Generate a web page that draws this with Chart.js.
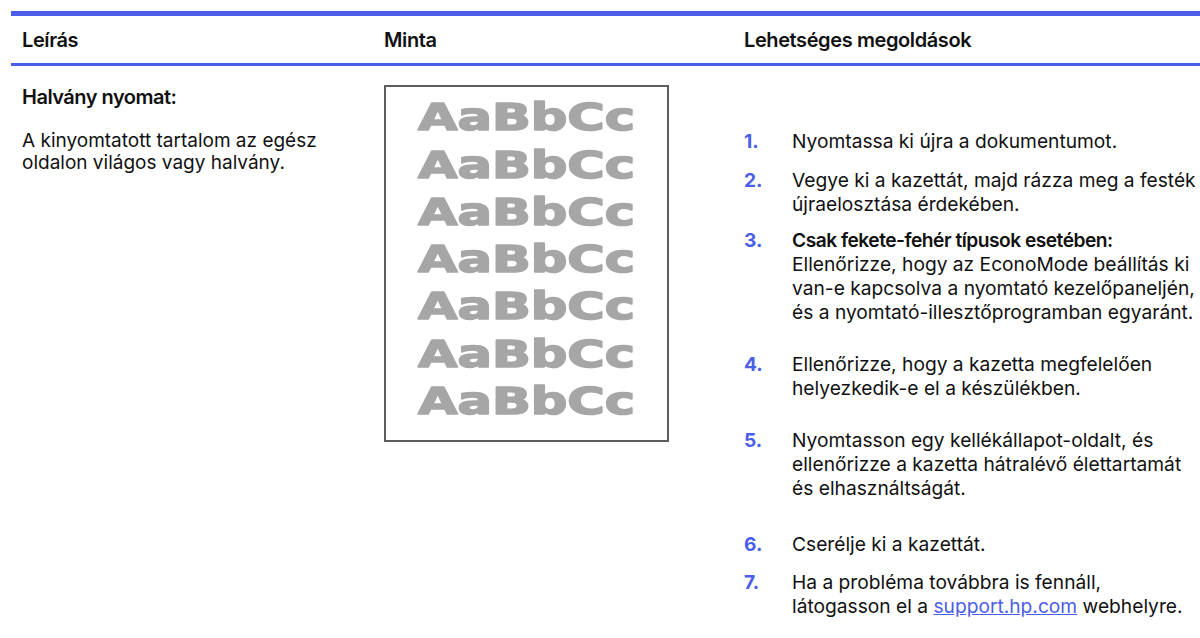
<!DOCTYPE html>
<html lang="hu">
<head>
<meta charset="utf-8">
<script src="https://cdn.jsdelivr.net/npm/chart.js@4.4.1/dist/chart.umd.min.js"></script>
<style>
  html, body { margin: 0; padding: 0; background: #fff; }
  body { width: 1200px; height: 638px; position: relative; overflow: hidden;
         font-family: Inter, "Noto Sans", sans-serif; color: #111; }
  .rule { position: absolute; left: 11px; right: 0; background: #4b5ee8; }
  .head { position: absolute; top: 28px; font-size: 20px; font-weight: 600; letter-spacing: -0.4px; }
  .cell { position: absolute; font-size: 19px; line-height: 22px; white-space: nowrap; }
  .title { font-weight: 600; letter-spacing: -0.5px; }
  #sampleBox { position: absolute; left: 384px; top: 85px; width: 281px; height: 353px;
               border: 2px solid #5e5e5e; }
  .step { position: absolute; left: 744px; font-size: 19.2px; line-height: 24px; white-space: nowrap; }
  .step .n { position: absolute; left: 0; top: 0; color: #4b5ee8; font-weight: 700; }
  .step .t { position: absolute; left: 48px; top: 0; }
  a { color: #4b5ee8; text-decoration: underline; }
</style>
</head>
<body>
<div class="rule" style="top:11px;height:5px"></div>
<div class="rule" style="top:63px;height:3px"></div>

<div class="head" id="h1" style="left:22px"></div>
<div class="head" id="h2" style="left:384px"></div>
<div class="head" id="h3" style="left:744px"></div>

<div class="cell" style="left:22px;top:86px">
  <div class="title" id="problem" style="font-size:20px"></div>
  <div id="desc" style="margin-top:22px"></div>
</div>

<div id="sampleBox"><canvas id="sample" width="281" height="353"></canvas></div>

<div id="steps"></div>

<script>
const headers = ['Leírás', 'Minta', 'Lehetséges megoldások'];
const problemTitle = 'Halvány nyomat:';
const problemLines = ['A kinyomtatott tartalom az egész', 'oldalon világos vagy halvány.'];

// sample print rows (category axis of the sample panel)
const sampleRows = ['AaBbCc', 'AaBbCc', 'AaBbCc', 'AaBbCc', 'AaBbCc', 'AaBbCc', 'AaBbCc'];
const sampleValues = [0, 0, 0, 0, 0, 0, 0];

const steps = [
  ['Nyomtassa ki újra a dokumentumot.'],
  ['Vegye ki a kazettát, majd rázza meg a festék', 'újraelosztása érdekében.'],
  ['<b class="title">Csak fekete-fehér típusok esetében:</b>', 'Ellenőrizze, hogy az EconoMode beállítás ki',
   'van-e kapcsolva a nyomtató kezelőpaneljén,', 'és a nyomtató-illesztőprogramban egyaránt.'],
  ['Ellenőrizze, hogy a kazetta megfelelően', 'helyezkedik-e el a készülékben.'],
  ['Nyomtasson egy kellékállapot-oldalt, és', 'ellenőrizze a kazetta hátralévő élettartamát', 'és elhasználtságát.'],
  ['Cserélje ki a kazettát.'],
  ['Ha a probléma továbbra is fennáll,', 'látogasson el a <a>support.hp.com</a> webhelyre.']
];
const stepTops = [129, 168, 228, 352, 428, 532, 570];

document.getElementById('h1').textContent = headers[0];
document.getElementById('h2').textContent = headers[1];
document.getElementById('h3').textContent = headers[2];
document.getElementById('problem').textContent = problemTitle;
document.getElementById('desc').innerHTML = problemLines.join('<br>');

const box = document.getElementById('steps');
steps.forEach((s, i) => {
  const d = document.createElement('div');
  d.className = 'step';
  d.style.top = stepTops[i] + 'px';
  d.innerHTML = '<span class="n">' + (i + 1) + '.</span><span class="t">' + s.join('<br>') + '</span>';
  box.appendChild(d);
});

// draw the faded sample rows on the category axis positions
const fadedRows = {
  id: 'fadedRows',
  afterDraw(chart) {
    const c = chart.ctx;
    const y = chart.scales.y;
    const cx = chart.width / 2;
    c.save();
    c.fillStyle = '#a6a6a6';
    c.strokeStyle = '#a6a6a6';
    c.lineWidth = 1.6;
    c.lineJoin = 'round';
    c.font = 'bold 37px "DejaVu Sans"';
    c.textAlign = 'center';
    c.textBaseline = 'middle';
    chart.data.labels.forEach((t, i) => {
      c.save();
      c.translate(cx, y.getPixelForValue(i) + 1);
      c.scale(1.38, 1);
      c.fillText(t, 0, 0);
      c.strokeText(t, 0, 0);
      c.restore();
    });
    c.restore();
  }
};

new Chart(document.getElementById('sample').getContext('2d'), {
  type: 'bar',
  data: {
    labels: sampleRows,
    datasets: [{ data: sampleValues, backgroundColor: '#a6a6a6' }]
  },
  options: {
    indexAxis: 'y',
    responsive: false,
    animation: false,
    layout: { padding: { top: 9, bottom: 13, left: 0, right: 0 } },
    plugins: { legend: { display: false }, tooltip: { enabled: false } },
    scales: { x: { display: false }, y: { display: false } }
  },
  plugins: [fadedRows]
});
</script>
</body>
</html>
